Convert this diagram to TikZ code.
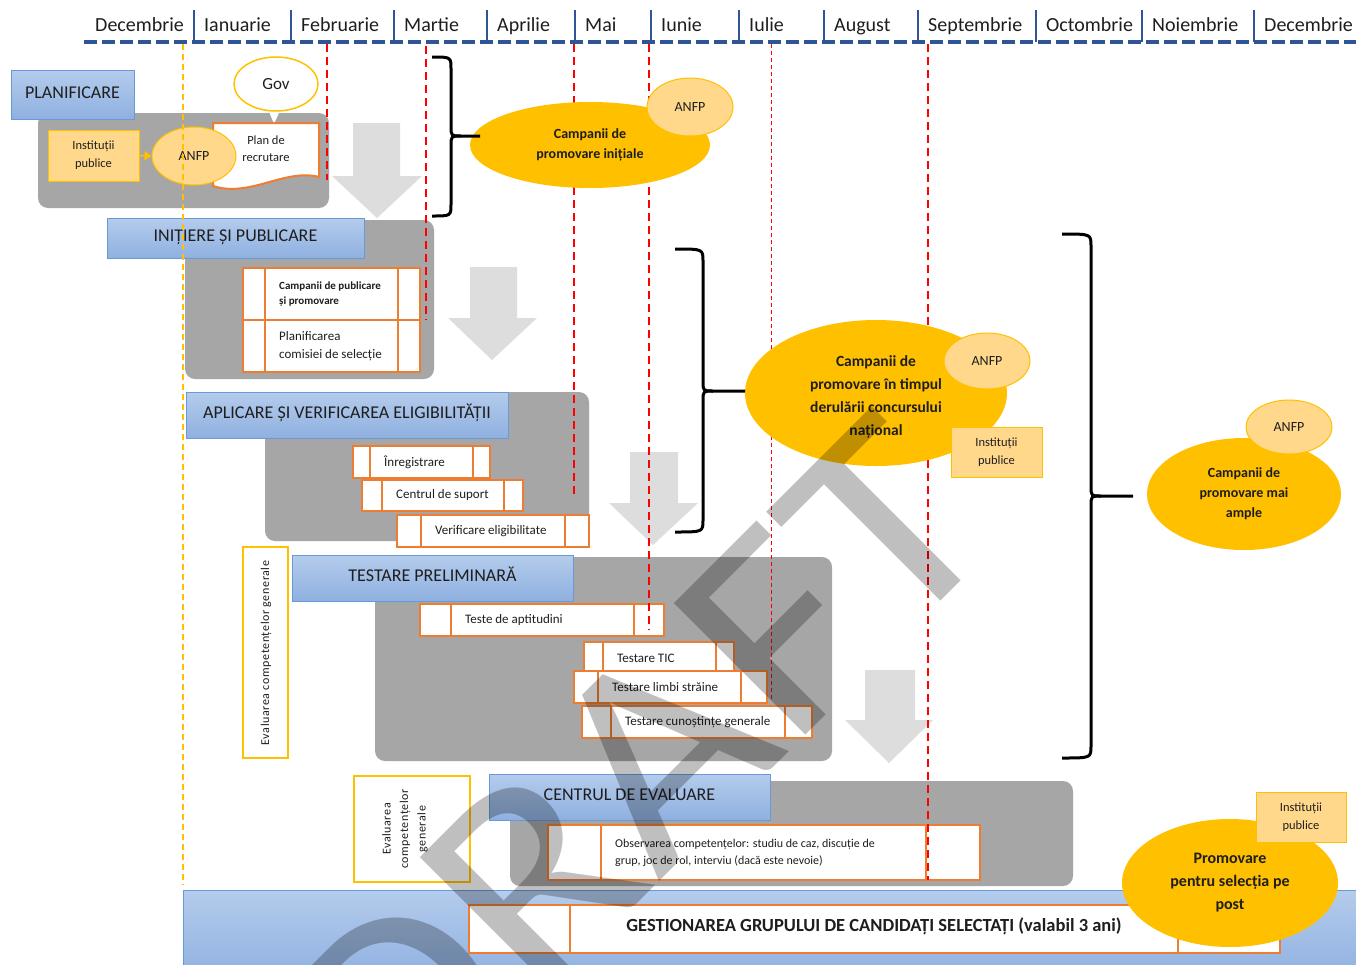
\documentclass[tikz,border=0pt]{standalone}
\usepackage{fontspec}
\setmainfont{Carlito}
\usetikzlibrary{shapes.geometric,arrows.meta,calc}
\definecolor{hdrblue}{HTML}{2F5597}
\definecolor{gold}{HTML}{FFC000}
\definecolor{lgold}{HTML}{FFD88C}
\definecolor{boxgray}{HTML}{A6A6A6}
\definecolor{arrgray}{HTML}{DDDDDD}
\definecolor{orng}{HTML}{ED7D31}
\definecolor{tblueA}{HTML}{B4CCEC}
\definecolor{tblueB}{HTML}{8FB0E0}
\definecolor{tborder}{HTML}{6A9AD6}
\definecolor{ddred}{HTML}{FF0000}
\definecolor{txt}{HTML}{1E1E1E}
\newcommand{\fsz}[2]{\fontsize{#1}{#2}\selectfont}
\newcommand{\obox}[9][]{%
  \node[obox, box={#3}{#4}{#5}{#6}] (#2) {};
  \draw[oline] (#7,#4) -- (#7,#6);
  \draw[oline] (#8,#4) -- (#8,#6);
  \node[otext, anchor=west, #1] (#2t) at ({#7+14},{(#4+#6)/2}) {#9};
}
\newcommand{\curlybrace}[6]{%
  \draw[bracestyle] (#1,#4) .. controls (#2,#4) .. (#2,{#4+12}) -- (#2,{#5-10})
     .. controls (#2,#5) .. ({#2+10},#5) -- (#3,#5);
  \draw[bracestyle] ({#2+10},#5) .. controls (#2,#5) .. (#2,{#5+10}) -- (#2,{#6-12})
     .. controls (#2,#6) .. (#1,#6);
}
\begin{document}
\begin{tikzpicture}[x=1pt,y=-1pt,
  box/.style n args={4}{minimum width={#3-#1}, minimum height={#4-#2}, at={({(#1+#3)/2},{(#2+#4)/2})}},
  month/.style={anchor=base west, inner sep=0pt, font=\fsz{20}{24}, text=txt},
  tick/.style={hdrblue, line width=2.5pt},
  hdrline/.style={hdrblue, line width=4pt, dash pattern=on 13pt off 5pt},
  reddash/.style={ddred, line width=2pt, dash pattern=on 8pt off 5pt},
  thinred/.style={ddred, line width=1pt, dash pattern=on 4pt off 3pt},
  golddash/.style={gold, line width=1.5pt, dash pattern=on 6pt off 4pt},
  graybox/.style={fill=boxgray, rounded corners=10pt, inner sep=0pt, draw=none},
  titlebox/.style={draw=tborder, line width=1pt, top color=tblueA, bottom color=tblueB, inner sep=0pt, font=\fsz{18}{20}, text=txt, text height=12.5pt, text depth=5pt},
  obox/.style={draw=orng, line width=2pt, fill=white, inner sep=0pt},
  oline/.style={orng, line width=2pt},
  otext/.style={inner sep=0pt, font=\fsz{13}{18}, text=txt, align=left},
  camp/.style={ellipse, fill=gold, draw=none, inner sep=0pt, text=txt, align=center},
  anfp/.style={ellipse, fill=lgold, draw=gold, line width=1pt, inner sep=0pt, font=\fsz{14}{16}, text=txt},
  inst/.style={rectangle, fill=lgold, draw=gold, line width=1pt, inner sep=0pt, font=\fsz{12.5}{18}, text=txt, align=center},
  bigarrow/.style={fill=arrgray, draw=none},
  bracestyle/.style={black, line width=3pt, line join=round},
  evalbox/.style={draw=gold, line width=2pt, fill=white, inner sep=0pt},
  evaltext/.style={inner sep=0pt, rotate=90, align=center, text=txt, font=\fsz{12}{17.5}\addfontfeatures{LetterSpace=5}}
]
\useasboundingbox (0,0) rectangle (1356,964);
\clip (0,0) rectangle (1356,964);
\fill[white] (0,0) rectangle (1356,964);

% ---------- header ----------
\draw[hdrline] (84,42) -- (1360,42);
\foreach \x in {194,291,394,487,575,651,739,824,918,1036,1142,1254}
  \draw[tick] (\x,10) -- (\x,42);
\node[month] (m1) at (95,31.5) {Decembrie};
\node[month] (m2) at (204,31.5) {Ianuarie};
\node[month] (m3) at (301,31.5) {Februarie};
\node[month] (m4) at (404,31.5) {Martie};
\node[month] (m5) at (497,31.5) {Aprilie};
\node[month] (m6) at (585,31.5) {Mai};
\node[month] (m7) at (661,31.5) {Iunie};
\node[month] (m8) at (749,31.5) {Iulie};
\node[month] (m9) at (834,31.5) {August};
\node[month] (m10) at (928,31.5) {Septembrie};
\node[month] (m11) at (1046,31.5) {Octombrie};
\node[month] (m12) at (1152,31.5) {Noiembrie};
\node[month] (m13) at (1264,31.5) {Decembrie};

% ---------- big gray arrows ----------
\fill[bigarrow] (353,123) -- (400,123) -- (400,176) -- (422,176) -- (377,218) -- (332,176) -- (353,176) -- cycle;
\fill[bigarrow] (470,267) -- (517,267) -- (517,318) -- (537,318) -- (492,360) -- (448,318) -- (470,318) -- cycle;
\fill[bigarrow] (630,452) -- (678,452) -- (678,503) -- (698,503) -- (653,545) -- (609,503) -- (630,503) -- cycle;
\fill[bigarrow] (865,670) -- (915,670) -- (915,720) -- (933,720) -- (889,763) -- (845,720) -- (865,720) -- cycle;

% ---------- gray boxes ----------
\node[graybox, box={38}{113}{329}{208}] (g1) {};
\node[graybox, box={185}{220}{434}{379}] (g2) {};
\node[graybox, box={265}{392}{589}{541}] (g3) {};
\node[graybox, box={375}{557}{832}{761}] (g4) {};
\node[graybox, box={510}{781}{1073}{886}] (g5) {};

% ---------- title boxes ----------
\node[titlebox, box={11}{70}{134}{119}] (t1) {PLANIFICARE};
\node[titlebox, box={107}{218}{364}{258}] (t2) {INIȚIERE ȘI PUBLICARE};
\node[titlebox, box={186}{392}{508}{438}] (t3) {APLICARE ȘI VERIFICAREA ELIGIBILITĂȚII};
\node[titlebox, box={292}{555}{573}{601}] (t4) {TESTARE PRELIMINARĂ};
\node[titlebox, box={489}{774}{770}{820}] (t5) {CENTRUL DE EVALUARE};

% ---------- planificare ----------
\node[inst, box={48}{130}{139}{181}] (inst1) {Instituții\\publice};
\fill[white] (266,104) -- (283,104) -- (274,124) -- cycle;
\node[ellipse, draw=gold, line width=1.5pt, fill=white, minimum width=84pt, minimum height=54pt, inner sep=0pt, font=\fsz{17}{20}, text=txt] (gov) at (276,84) {Gov};
\draw[draw=orng, line width=2pt, fill=white] (213,123) -- (319,123) -- (319,177) .. controls (285,168) and (250,198) .. (213,186) -- cycle;
\node[inner sep=0pt, align=center, font=\fsz{12.5}{17}, text=txt] (plan) at (266,149) {Plan de\\recrutare};
\node[anfp, minimum width=84pt, minimum height=58pt] (anfp1) at (194,156) {ANFP};
\draw[gold, line width=1.5pt, -{Triangle[length=7pt,width=9pt]}] (inst1.east) -- (anfp1.west);

% ---------- initiere ----------
\obox[font=\bfseries\fsz{11}{15}]{p1}{243}{268}{420}{320}{265}{398}{Campanii de publicare\\și promovare}
\obox{p2}{243}{320}{420}{372}{265}{398}{Planificarea\\comisiei de selecție}

% ---------- aplicare ----------
\obox{a1b}{353}{446}{490}{478}{370}{473}{Înregistrare}
\obox{a2b}{362}{480}{523}{511}{382}{504}{Centrul de suport}
\obox{a3b}{397}{515}{589}{547}{421}{565}{Verificare eligibilitate}

% ---------- testare ----------
\node[evalbox, box={243}{547}{288}{758}] (ev1) {};
\node[evaltext] (ev1t) at (266,653) {Evaluarea competențelor generale};
\obox{s1}{420}{604}{664}{636}{451}{634}{Teste de aptitudini}
\obox{s2}{584}{642}{734}{674}{603}{716}{Testare TIC}
\obox{s3}{574}{671}{767}{703}{598}{741}{Testare limbi străine}
\obox{s4}{582}{706}{812}{738}{611}{785}{Testare cunoștințe generale}

% ---------- centrul ----------
\node[evalbox, box={354}{776}{470}{882}] (ev2) {};
\node[evaltext] (ev2t) at (405,829) {Evaluarea\\competențelor\\generale};
\obox[font=\fsz{12}{17}]{o1}{548}{825}{980}{880}{601}{926}{Observarea competențelor: studiu de caz, discuție de\\grup, joc de rol, interviu (dacă este nevoie)}

% ---------- bottom band ----------
\node[draw=tborder, line width=1pt, top color=tblueA, bottom color=tblueB, inner sep=0pt, box={183}{890}{1362}{980}] (band) {};
\node[obox, box={469}{905}{1280}{953}] (gest) {};
\draw[oline] (570,905) -- (570,953);
\draw[oline] (1178,905) -- (1178,953);
\node[inner sep=0pt, font=\bfseries\fsz{18.5}{22}, text=txt] (gestt) at (874,926) {GESTIONAREA GRUPULUI DE CANDIDAȚI SELECTAȚI (valabil 3 ani)};

% ---------- dashed verticals ----------
\draw[golddash] (183,44) -- (183,885);
\draw[reddash] (327,44) -- (327,180);
\draw[reddash] (426,46) -- (426,320);
\draw[reddash] (574,44) -- (574,497);
\draw[reddash] (649,44) -- (649,630);
\draw[thinred] (771,44) -- (771,700);
\draw[reddash] (928,44) -- (928,880);

% ---------- campaigns ----------
\node[camp, minimum width=240pt, minimum height=86pt, font=\bfseries\fsz{14}{20}] (c1) at (590,145) {Campanii de\\promovare inițiale};
\node[anfp, minimum width=86pt, minimum height=58pt] (an1) at (690,107) {ANFP};
\node[camp, minimum width=262pt, minimum height=146pt] (c2) at (876,393) {};
\node[inner sep=0pt, align=center, text=txt, font=\bfseries\fsz{15.5}{23}] (c2t) at (876,397) {Campanii de\\promovare în timpul\\derulării concursului\\național};
\node[anfp, minimum width=86pt, minimum height=56pt] (an2) at (987,361) {ANFP};
\node[inst, box={951}{427}{1042}{477}] (inst2) {Instituții\\publice};
\node[camp, minimum width=194pt, minimum height=112pt, font=\bfseries\fsz{14}{20}] (c3) at (1244,494) {Campanii de\\promovare mai\\ample};
\node[anfp, minimum width=86pt, minimum height=54pt] (an3) at (1289,427) {ANFP};
\node[camp, minimum width=216pt, minimum height=128pt, font=\bfseries\fsz{16}{23}] (c4) at (1230,883) {Promovare\\pentru selecția pe\\post};
\node[inst, box={1256}{792}{1346}{842}] (inst4) {Instituții\\publice};

% ---------- braces ----------
\curlybrace{432}{451}{480}{57}{136}{216}
\curlybrace{675}{703}{745}{249}{391}{532}
\curlybrace{1062}{1091}{1133}{234}{496}{758}

% ---------- watermark ----------
\node[rotate=45, xscale=1.11, anchor=base west, inner sep=0pt, font=\fsz{290}{290}, text=black, text opacity=0.25] (wm) at (395,1146) {DRAFT};
\end{tikzpicture}
\end{document}
